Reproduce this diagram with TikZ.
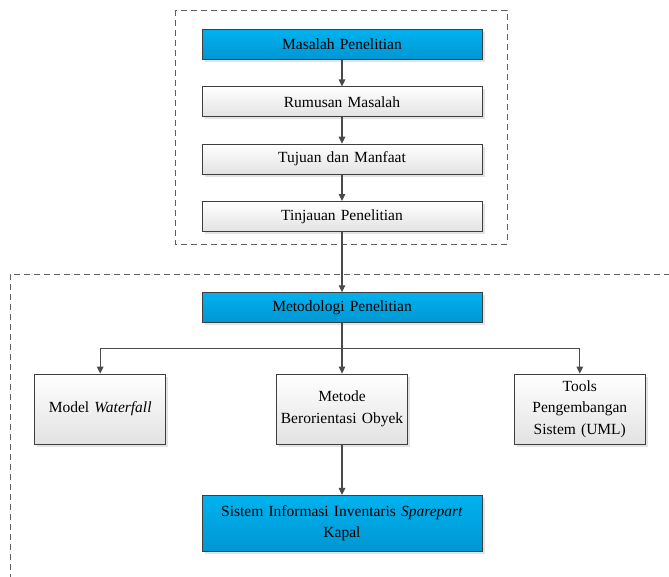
\documentclass[tikz,border=0pt]{standalone}
\usepackage{fontspec}
\setmainfont{Liberation Serif}
\usetikzlibrary{positioning,arrows.meta,shadows}
\definecolor{biruatas}{HTML}{00B2EE}
\definecolor{birubawah}{HTML}{0096D3}
\definecolor{abubawah}{HTML}{E2E2E2}
\definecolor{tepi}{HTML}{3E3E3E}
\definecolor{panah}{HTML}{4A4A4A}
\definecolor{putus}{HTML}{5E5E5E}
\begin{document}
\begin{tikzpicture}[node distance=26.5pt and 110pt,
k/.style={draw=tepi,line width=0.8pt,align=center,inner sep=1pt,font=\fontsize{15.5}{21.5}\selectfont,drop shadow={shadow xshift=2.5pt,shadow yshift=-2.5pt,fill=black!22}},
biru/.style={k,top color=biruatas,bottom color=birubawah},
abu/.style={k,top color=white,bottom color=abubawah},
lebar/.style={minimum width=280pt,minimum height=30pt,text width=276pt},
kecil/.style={minimum width=131pt,minimum height=70pt,text width=128pt},
a/.style={-{Triangle[length=7pt,width=6.5pt]},draw=panah,line width=1.2pt},
garis/.style={draw=putus,line width=0.8pt,dash pattern=on 6pt off 4pt}]
\useasboundingbox (0,0) rectangle (669pt,-576pt);
\node[biru,lebar](masalah) at (342pt,-44.5pt){Masalah Penelitian};
\node[abu,lebar,below=of masalah](rumusan){Rumusan Masalah};
\node[abu,lebar,below=of rumusan](tujuan){Tujuan dan Manfaat};
\node[abu,lebar,below=of tujuan](tinjauan){Tinjauan Penelitian};
\node[biru,lebar,below=60.5pt of tinjauan](metodologi){Metodologi Penelitian};
\node[abu,kecil,below=50.5pt of metodologi](metode){Metode\\Berorientasi Obyek};
\node[abu,kecil,left=of metode](model){Model \textit{Waterfall}};
\node[abu,kecil,right=106pt of metode](tools){Tools\\Pengembangan\\Sistem (UML)};
\node[biru,lebar,minimum height=56pt,below=50.5pt of metode](sistem){Sistem Informasi Inventaris \textit{Sparepart}\\Kapal};
\draw[garis](175pt,-10pt) rectangle (507pt,-244pt);
\draw[garis](680pt,-274pt)--(10pt,-274pt)--(10pt,-590pt);
\draw[a](masalah)--(rumusan);\draw[a](rumusan)--(tujuan);\draw[a](tujuan)--(tinjauan);\draw[a](tinjauan)--(metodologi);
\draw[a](metodologi)--(metode);\draw[a](metodologi.south)--++(0,-25pt)-|(model.north);\draw[a](metodologi.south)--++(0,-25pt)-|(tools.north);
\draw[a](metode)--(sistem);
\end{tikzpicture}
\end{document}
